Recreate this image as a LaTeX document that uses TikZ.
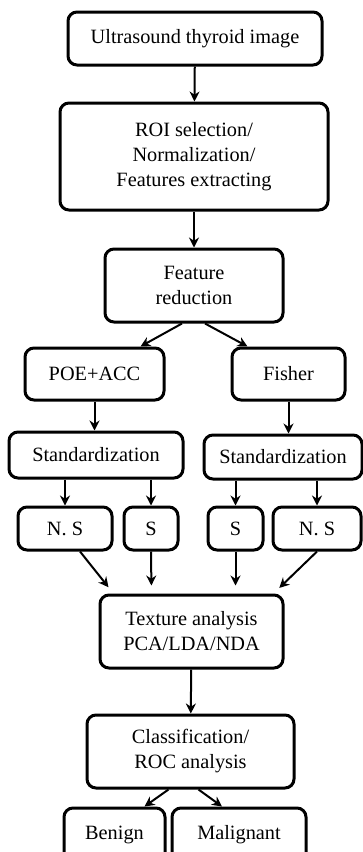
\documentclass[tikz,border=0pt]{standalone}
\usepackage{fontspec}
\setmainfont{Liberation Serif}
\usetikzlibrary{arrows.meta,positioning,calc}

\begin{document}
\begin{tikzpicture}[x=1pt,y=-1pt,>={Stealth[length=10pt,width=10pt]},->,line width=2pt]
  \tikzstyle{block}=[draw=black,line width=3pt,rounded corners=9pt,align=center,
    inner sep=2pt,font=\fontsize{20.3}{25}\selectfont]
  \useasboundingbox (0,0) rectangle (363,852);
  % main column
  \node[block,minimum width=254pt,minimum height=53pt] (img) at (195,38.5) {Ultrasound thyroid image};
  \node[block,minimum width=268pt,minimum height=107pt] (roi) at (194,156.5) {ROI selection/\\Normalization/\\Features extracting};
  \node[block,minimum width=178pt,minimum height=73pt] (red) at (194,285.5) {Feature\\reduction};
  % two branches
  \node[block,minimum width=139pt,minimum height=52pt] (poe) at (94.5,374) {POE+ACC};
  \node[block,minimum width=113pt,minimum height=52pt] (fis) at (288.5,374) {Fisher};
  \node[block,minimum width=174pt,minimum height=46pt] (stdL) at (96,455) {Standardization};
  \node[block,minimum width=158pt,minimum height=44pt] (stdR) at (283,457) {Standardization};
  \foreach \name/\txt/\x/\w in {nsL/N. S/65/94, sL/S/151/54, sR/S/235.5/55, nsR/N. S/317/88}
    \node[block,minimum width=\w pt,minimum height=43pt] (\name) at (\x,528.5) {\txt};
  % merge and classify
  \node[block,minimum width=183pt,minimum height=73pt] (tex) at (191.5,631.5) {Texture analysis\\PCA/LDA/NDA};
  \node[block,minimum width=207pt,minimum height=73pt] (cls) at (190.5,751.5) {Classification/\\ROC analysis};
  \node[block,minimum width=101pt,minimum height=54pt] (ben) at (114.5,835) {Benign};
  \node[block,minimum width=134pt,minimum height=54pt] (mal) at (239,835) {Malignant};

  \draw (img) -- (roi);
  \draw (roi) -- (red);
  \draw ([xshift=-12pt]red.south) -- ([xshift=46pt]poe.north);
  \draw ([xshift=11pt]red.south) -- ([xshift=-41pt]fis.north);
  \draw (poe) -- (poe |- stdL.north);
  \draw (fis) -- (fis |- stdR.north);
  \foreach \std/\to in {stdL/nsL, stdL/sL, stdR/sR, stdR/nsR}
    \draw (\to |- \std.south) -- (\to);
  \foreach \from/\sx/\dx in {nsL/15/-78, sL/0/-40, sR/0/44, nsR/0/82}
    \draw[shorten >=8pt] ([xshift=\sx pt]\from.south) -- ([xshift=\dx pt]tex.north);
  \draw (tex) -- (cls);
  \draw ([xshift=-22pt]cls.south) -- ([xshift=30pt]ben.north);
  \draw ([xshift=8pt]cls.south) -- ([xshift=-17pt]mal.north);
\end{tikzpicture}
\end{document}
